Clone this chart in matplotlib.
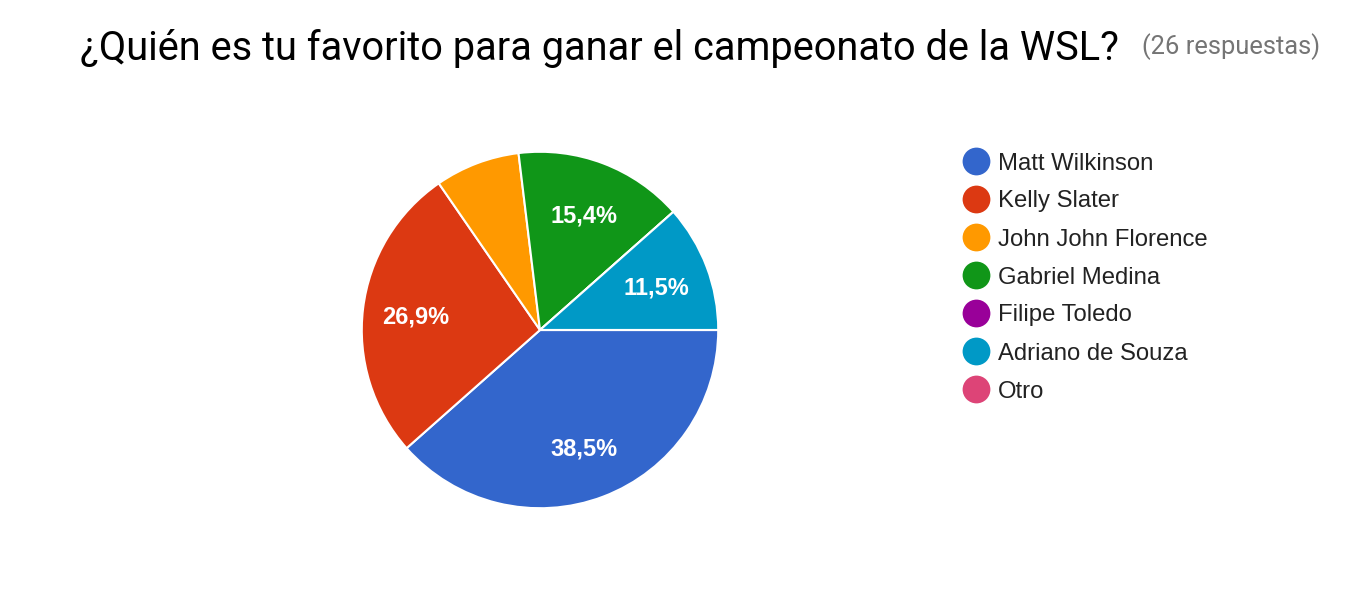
import matplotlib
matplotlib.use("Agg")
import matplotlib.pyplot as plt

categories = ["Matt Wilkinson", "Kelly Slater", "John John Florence", "Gabriel Medina",
              "Filipe Toledo", "Adriano de Souza", "Otro"]
votes = [10, 7, 2, 4, 0, 3, 0]
colors = ["#3366cc", "#dc3912", "#ff9900", "#109618", "#990099", "#0099c6", "#dd4477"]
title = "¿Quién es tu favorito para ganar el campeonato de la WSL?"
subtitle = "(26 respuestas)"

W, H = 1356, 590
fig = plt.figure(figsize=(W / 100, H / 100), dpi=100)
fig.patch.set_facecolor("white")

# pie axes: center (540,330), radius 180 px
cx, cy, r = 540, 330, 180
ax = fig.add_axes([(cx - r) / W, (H - cy - r) / H, 2 * r / W, 2 * r / H])

def fmt(p):
    if p < 8:
        return ""
    return f"{p:.1f}%".replace(".", ",")

wedges, texts, autotexts = ax.pie(
    votes, colors=colors, startangle=0, counterclock=False,
    autopct=fmt, pctdistance=0.7, radius=1,
    wedgeprops=dict(edgecolor="white", linewidth=1.5),
    textprops=dict(color="white", fontsize=17, fontweight="bold", family="Liberation Sans"),
)
for at in autotexts:
    at.set_va("center_baseline")
ax.set_xlim(-1.01, 1.01)
ax.set_ylim(-1.01, 1.01)
ax.set_aspect("equal")
ax.axis("off")

# overlay axes in pixel coordinates for legend and title
lax = fig.add_axes([0, 0, 1, 1])
lax.set_xlim(0, W)
lax.set_ylim(H, 0)
lax.axis("off")

for i, (cat, col) in enumerate(zip(categories, colors)):
    y = 161 + i * 38
    lax.scatter([976], [y], s=400, color=col, marker="o", linewidths=0)
    lax.text(998, y, cat, fontsize=17.2, family="Liberation Sans", color="#222222",
             va="center_baseline", ha="left")

lax.text(80, 44, title, fontsize=28.6, family="Roboto", color="#000000",
         va="center_baseline", ha="left")
lax.text(1142, 44, subtitle, fontsize=18.4, family="Roboto", color="#757575",
         va="center_baseline", ha="left")

fig.savefig("out.png", dpi=100, facecolor="white")
